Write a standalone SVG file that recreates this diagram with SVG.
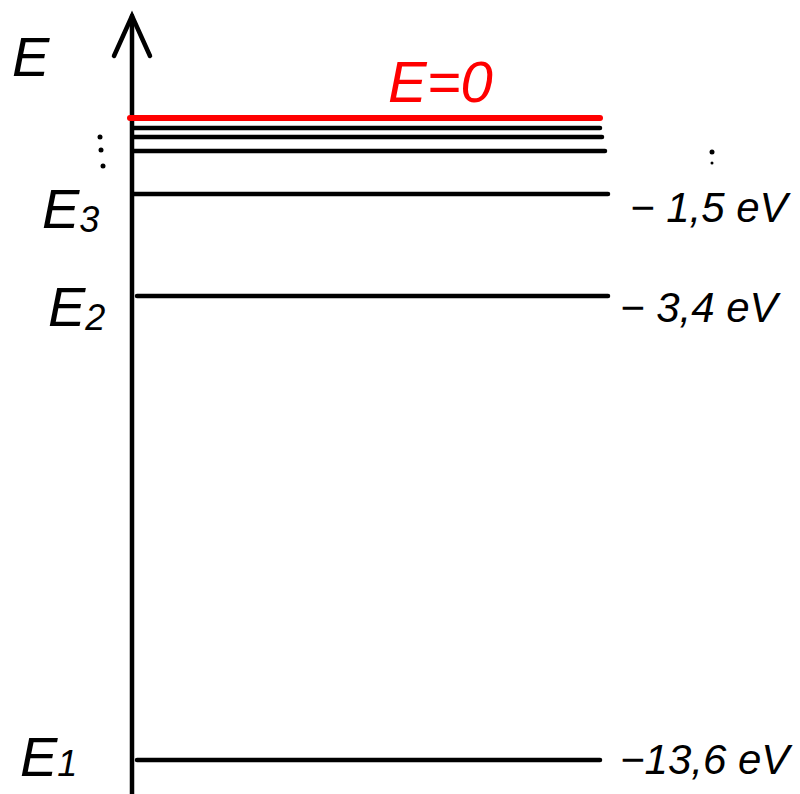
<svg xmlns="http://www.w3.org/2000/svg" width="800" height="794" viewBox="0 0 800 794">
<style>
.lvl{stroke:#000;stroke-width:4.5;stroke-linecap:round;fill:none}
.lbl{font-family:"Liberation Sans",sans-serif;font-style:italic;fill:#000}
.big{font-size:56px}
.val{font-size:42px}
</style>
<rect width="800" height="794" fill="#fff"/>
<g id="axis">
<line x1="132" y1="16" x2="132" y2="794" class="lvl" stroke-width="5"/>
<polyline points="114,56 132,16 150,56" class="lvl" stroke-width="5"/>
<text class="lbl big" x="12" y="76">E</text>
</g>
<g id="connectors">
<line x1="130" y1="118" x2="600" y2="118" stroke="#f00" stroke-width="6" stroke-linecap="round"/>
<line class="lvl" x1="133" y1="128" x2="600" y2="128"/>
<line class="lvl" x1="133" y1="137" x2="602" y2="137"/>
<line class="lvl" x1="133" y1="151" x2="605" y2="151"/>
</g>
<g id="zero">
<text x="388" y="102" font-family="Liberation Sans,sans-serif" font-style="italic" font-size="58" fill="#f00">E=0</text>
</g>
<g id="dots">
<circle cx="100" cy="137" r="2.5"/>
<circle cx="101" cy="150" r="2.5"/>
<circle cx="103" cy="166" r="2.5"/>
<circle cx="712" cy="152" r="2.5"/>
<circle cx="712" cy="163" r="1.5"/>
</g>
<g id="E3">
<line class="lvl" x1="133" y1="194" x2="608" y2="194"/>
<text class="lbl big" x="42" y="228">E<tspan font-size="36" dy="4">3</tspan></text>
<text class="lbl val" x="630" y="222">− 1,5 eV</text>
</g>
<g id="E2">
<line class="lvl" x1="137" y1="296" x2="608" y2="296"/>
<text class="lbl big" x="48" y="326">E<tspan font-size="36" dy="4">2</tspan></text>
<text class="lbl val" x="620" y="322">− 3,4 eV</text>
</g>
<g id="E1">
<line class="lvl" x1="137" y1="760" x2="600" y2="760"/>
<text class="lbl big" x="20" y="776">E<tspan font-size="36">1</tspan></text>
<text class="lbl val" x="620" y="774">−13,6 eV</text>
</g>
</svg>
